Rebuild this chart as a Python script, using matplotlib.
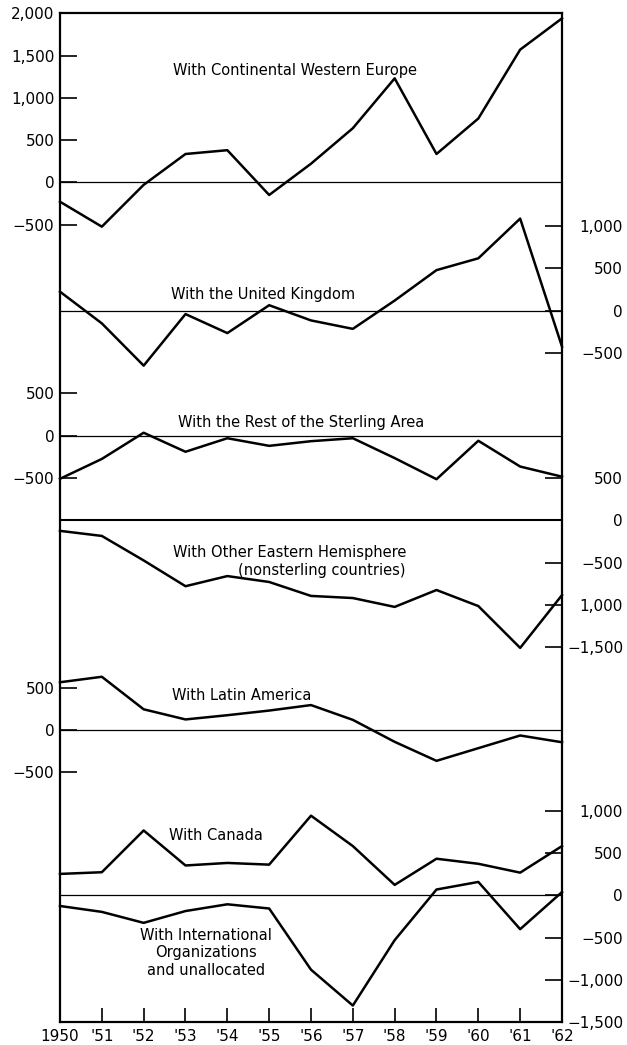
import matplotlib
matplotlib.use("Agg")
import matplotlib.pyplot as plt

# --- data (millions of dollars) ---
years = list(range(1950, 1963))
year_labels = ["1950", "'51", "'52", "'53", "'54", "'55", "'56",
               "'57", "'58", "'59", "'60", "'61", "'62"]

cont_europe = [-230, -525, -30, 335, 380, -150, 220, 640, 1230, 335, 755, 1570, 1940]
uk = [225, -150, -650, -40, -265, 65, -115, -215, 120, 480, 620, 1090, -425]
sterling = [-510, -275, 35, -190, -30, -120, -65, -30, -265, -515, -60, -365, -485]
other_east = [-125, -185, -475, -780, -660, -730, -895, -920, -1025, -825, -1015, -1510, -885]
latin_am = [565, 630, 245, 125, 175, 230, 295, 120, -140, -365, -215, -65, -145]
canada = [255, 275, 770, 355, 385, 365, 945, 585, 125, 435, 375, 270, 585]
intl_org = [-125, -195, -325, -185, -105, -155, -880, -1305, -530, 70, 160, -400, 40]

p1_ticks = [2000, 1500, 1000, 500, 0, -500]
p1_labels = ["2,000", "1,500", "1,000", "500", "0", "\u2212500"]
p2_ticks = [1000, 500, 0, -500]
p2_labels = ["1,000", "500", "0", "\u2212500"]
p3_ticks = [500, 0, -500]
p3_labels = ["500", "0", "\u2212500"]
p4_ticks = [500, 0, -500, -1000, -1500]
p4_labels = ["500", "0", "\u2212500", "1,000", "\u22121,500"]
p5_ticks = [500, 0, -500]
p5_labels = ["500", "0", "\u2212500"]
p6_ticks = [1000, 500, 0, -500, -1000, -1500]
p6_labels = ["1,000", "500", "0", "\u2212500", "\u22121,000", "\u22121,500"]

# --- layout (pixels) ---
W, H = 627, 1045
L, T, R, B = 60, 13, 562, 1022
s = 0.0845  # px per unit

fig = plt.figure(figsize=(W / 100, H / 100), dpi=100)
ax = fig.add_axes([L / W, 1 - B / H, (R - L) / W, (B - T) / H])
ax.set_xlim(1950, 1962)
ax.set_xticks(years, year_labels, fontsize=11)
ax.tick_params(axis="x", direction="in", length=10, width=1.2, pad=5)
ax.set_yticks([])
for sp in ax.spines.values():
    sp.set_linewidth(1.6)


def panel(zero_px, side, ticks, labels, zero_lw=0.9):
    a = ax.twinx()
    a.set_ylim(-(B - zero_px) / s, (zero_px - T) / s)
    for sp in a.spines.values():
        sp.set_visible(False)
    if side == "left":
        a.yaxis.tick_left()
        a.set_yticks(ticks, labels, fontsize=11)
        a.tick_params(axis="y", direction="in", length=12, width=1.2, pad=4)
    else:
        a.yaxis.tick_right()
        a.set_yticks(ticks, labels, fontsize=11, ha="right")
        a.tick_params(axis="y", direction="in", length=12, width=1.2, pad=44)
    a.axhline(0, color="black", lw=zero_lw)
    return a


a1 = panel(182.3, "left", p1_ticks, p1_labels)
a1.plot(years, cont_europe, color="black", lw=1.8, clip_on=False)

a2 = panel(310.7, "right", p2_ticks, p2_labels)
a2.plot(years, uk, color="black", lw=1.8, clip_on=False)

a3 = panel(435.7, "left", p3_ticks, p3_labels)
a3.plot(years, sterling, color="black", lw=1.8, clip_on=False)

a4 = panel(520.3, "right", p4_ticks, p4_labels, zero_lw=1.5)
a4.plot(years, other_east, color="black", lw=1.8, clip_on=False)

a5 = panel(730, "left", p5_ticks, p5_labels)
a5.plot(years, latin_am, color="black", lw=1.8, clip_on=False)

a6 = panel(896.7, "right", p6_ticks, p6_labels)
a6.plot(years, canada, color="black", lw=1.8, clip_on=False)
a6.plot(years, intl_org, color="black", lw=1.8, clip_on=False)


def label(x, y, txt, ha="center", ls=1.2):
    t = fig.text(x / W, 1 - y / H, txt, ha=ha, va="center", fontsize=10.5,
                 linespacing=ls)
    return t


label(295, 70, "With Continental Western Europe")
label(263, 294, "With the United Kingdom")
label(301, 422, "With the Rest of the Sterling Area")
t = label(406, 561, "With Other Eastern Hemisphere\n(nonsterling countries)", ha="right", ls=1.25)
t.set_multialignment("right")
label(242, 696, "With Latin America")
label(216, 836, "With Canada")
label(206, 953, "With International\nOrganizations\nand unallocated")

fig.savefig("out.png", dpi=100)
